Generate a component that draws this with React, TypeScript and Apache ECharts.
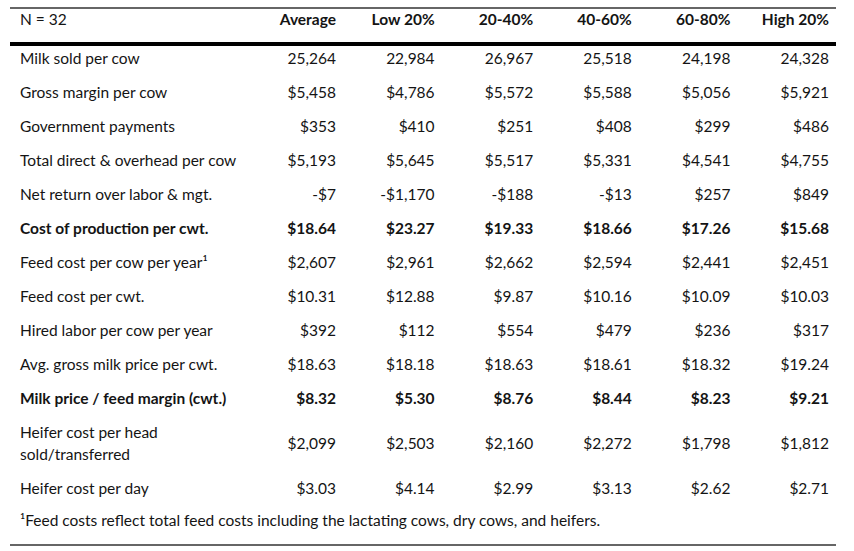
import React, { useEffect, useRef } from 'react';
import * as echarts from 'echarts';

const cornerLabel = 'N = 32';
const columns = ['Average', 'Low 20%', '20-40%', '40-60%', '60-80%', 'High 20%'];
const rowLabels = [
  'Milk sold per cow',
  'Gross margin per cow',
  'Government payments',
  'Total direct & overhead per cow',
  'Net return over labor & mgt.',
  'Cost of production per cwt.',
  'Feed cost per cow per year\u00B9',
  'Feed cost per cwt.',
  'Hired labor per cow per year',
  'Avg. gross milk price per cwt.',
  'Milk price / feed margin (cwt.)',
  'Heifer cost per head\nsold/transferred',
  'Heifer cost per day',
];
const rowBold = [false, false, false, false, false, true, false, false, false, false, true, false, false];
const rowFormat = ['int', 'usd0', 'usd0', 'usd0', 'usd0', 'usd2', 'usd0', 'usd2', 'usd0', 'usd2', 'usd2', 'usd0', 'usd2'];
const rowLines = [1, 1, 1, 1, 1, 1, 1, 1, 1, 1, 1, 2, 1];

const average = [25264, 5458, 353, 5193, -7, 18.64, 2607, 10.31, 392, 18.63, 8.32, 2099, 3.03];
const low20 = [22984, 4786, 410, 5645, -1170, 23.27, 2961, 12.88, 112, 18.18, 5.3, 2503, 4.14];
const p20to40 = [26967, 5572, 251, 5517, -188, 19.33, 2662, 9.87, 554, 18.63, 8.76, 2160, 2.99];
const p40to60 = [25518, 5588, 408, 5331, -13, 18.66, 2594, 10.16, 479, 18.61, 8.44, 2272, 3.13];
const p60to80 = [24198, 5056, 299, 4541, 257, 17.26, 2441, 10.09, 236, 18.32, 8.23, 1798, 2.62];
const high20 = [24328, 5921, 486, 4755, 849, 15.68, 2451, 10.03, 317, 19.24, 9.21, 1812, 2.71];
const columnValues = [average, low20, p20to40, p40to60, p60to80, high20];

const footnote = '\u00B9Feed costs reflect total feed costs including the lactating cows, dry cows, and heifers.';

const FONT = 'Lato, "Open Sans", sans-serif';
const FS = 15.5;
const TXT = '#141414';
const LINE_H = 34;
const EXTRA_LINE_H = 22;

function withCommas(s: string): string {
  const [i, d] = s.split('.');
  const ii = i.replace(/\B(?=(\d{3})+(?!\d))/g, ',');
  return d !== undefined ? ii + '.' + d : ii;
}

function fmt(v: number, f: string): string {
  const neg = v < 0;
  const a = Math.abs(v);
  const body = withCommas(f === 'usd2' ? a.toFixed(2) : String(Math.round(a)));
  const s = f === 'int' ? body : '$' + body;
  return (neg ? '-' : '') + s;
}

const rowHeights = rowLines.map((n) => LINE_H + (n - 1) * EXTRA_LINE_H);
const rowCenters: number[] = [];
{
  let acc = 0;
  rowHeights.forEach((h) => {
    rowCenters.push(acc + h / 2);
    acc += h;
  });
}
const bodyHeight = rowHeights.reduce((a, b) => a + b, 0);

export default function App() {
  const ref = useRef<HTMLDivElement>(null);
  useEffect(() => {
    if (!ref.current) return;
    const chart = echarts.init(ref.current, null, { renderer: 'svg' });

    const valueCells: { text: string; bold: boolean }[] = [];
    const valueData: number[][] = [];
    rowLabels.forEach((_, r) => {
      columnValues.forEach((col, c) => {
        valueData.push([c, rowCenters[r]]);
        valueCells.push({ text: fmt(col[r], rowFormat[r]), bold: rowBold[r] });
      });
    });
    const labelData = rowLabels.map((_, r) => [0, rowCenters[r]]);

    const gridLeft = 336;
    const gridTop = 41;

    chart.setOption({
      animation: false,
      grid: { left: gridLeft, right: 25, top: gridTop, height: bodyHeight, containLabel: false },
      xAxis: {
        type: 'category',
        data: columns,
        position: 'top',
        boundaryGap: false,
        axisLine: { show: false },
        axisTick: { show: false },
        splitLine: { show: false },
        axisLabel: {
          interval: 0,
          align: 'right',
          margin: 14,
          fontWeight: 'bold',
          fontSize: FS,
          fontFamily: FONT,
          color: TXT,
        },
      },
      yAxis: { type: 'value', inverse: true, min: 0, max: bodyHeight, show: false },
      series: [
        {
          type: 'custom',
          data: valueData,
          renderItem: (params: any, api: any) => {
            const p = api.coord([api.value(0), api.value(1)]);
            const cell = valueCells[params.dataIndex];
            return {
              type: 'text',
              x: p[0],
              y: p[1],
              style: {
                text: cell.text,
                align: 'right',
                verticalAlign: 'middle',
                fontSize: FS,
                fontFamily: FONT,
                fontWeight: cell.bold ? 'bold' : 'normal',
                fill: TXT,
              },
            };
          },
        },
        {
          type: 'custom',
          data: labelData,
          renderItem: (params: any, api: any) => {
            const p = api.coord([api.value(0), api.value(1)]);
            const r = params.dataIndex;
            return {
              type: 'text',
              x: p[0] - 316,
              y: p[1],
              style: {
                text: rowLabels[r],
                align: 'left',
                verticalAlign: 'middle',
                lineHeight: EXTRA_LINE_H,
                fontSize: FS,
                fontFamily: FONT,
                fontWeight: rowBold[r] ? 'bold' : 'normal',
                fill: TXT,
              },
            };
          },
        },
      ],
      graphic: [
        { type: 'line', shape: { x1: 10, y1: 8, x2: 836, y2: 8 }, style: { stroke: '#666', lineWidth: 2 } },
        { type: 'line', shape: { x1: 10, y1: 44, x2: 836, y2: 44 }, style: { stroke: '#000', lineWidth: 4 } },
        { type: 'line', shape: { x1: 10, y1: 545, x2: 836, y2: 545 }, style: { stroke: '#666', lineWidth: 2 } },
        {
          type: 'text',
          x: 20,
          y: 19,
          style: { text: cornerLabel, fontSize: FS, fontFamily: FONT, fill: TXT, verticalAlign: 'middle' },
        },
        {
          type: 'text',
          x: 20,
          y: 520,
          style: { text: footnote, fontSize: FS, fontFamily: FONT, fill: TXT, verticalAlign: 'middle' },
        },
      ],
    });
    return () => chart.dispose();
  }, []);
  return <div ref={ref} style={{ width: 854, height: 551, position: 'absolute', left: 0, top: 0 }} />;
}
